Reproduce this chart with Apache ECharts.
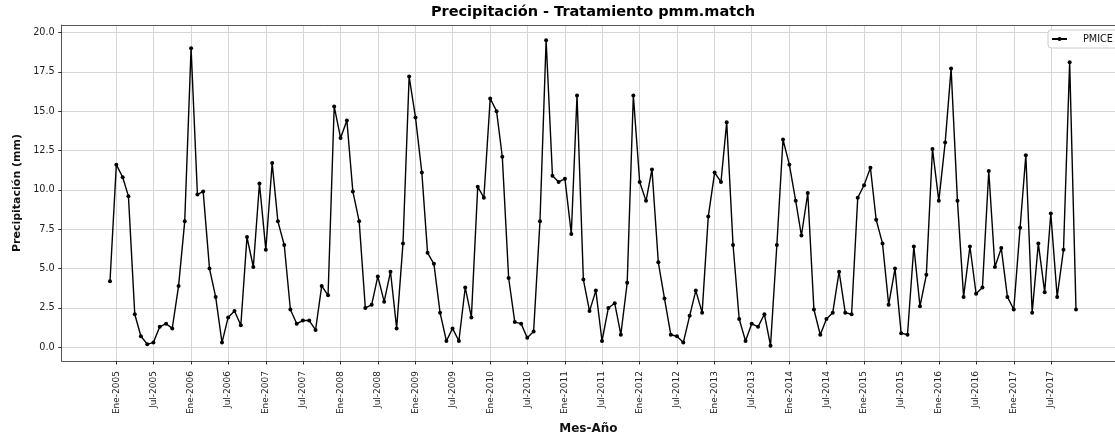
<!DOCTYPE html>
<html>
<head>
<meta charset="utf-8">
<script src="https://cdn.jsdelivr.net/npm/echarts@6/dist/echarts.min.js"></script>
<style>
  html, body { margin: 0; padding: 0; background: #ffffff; }
  #chart { width: 1115px; height: 440px; }
</style>
</head>
<body>
<div id="chart"></div>
<script>
// Monthly precipitation series (mm), first month = December 2004
const firstYear = 2004;
const firstMonth = 12;
const precip = [
  4.2, 11.6, 10.8, 9.6, 2.1, 0.7, 0.2, 0.3, 1.3, 1.5, 1.2, 3.9,
  8.0, 19.0, 9.7, 9.9, 5.0, 3.2, 0.3, 1.9, 2.3, 1.4, 7.0, 5.1,
  10.4, 6.2, 11.7, 8.0, 6.5, 2.4, 1.5, 1.7, 1.7, 1.1, 3.9, 3.3,
  15.3, 13.3, 14.4, 9.9, 8.0, 2.5, 2.7, 4.5, 2.9, 4.8, 1.2, 6.6,
  17.2, 14.6, 11.1, 6.0, 5.3, 2.2, 0.4, 1.2, 0.4, 3.8, 1.9, 10.2,
  9.5, 15.8, 15.0, 12.1, 4.4, 1.6, 1.5, 0.6, 1.0, 8.0, 19.5, 10.9,
  10.5, 10.7, 7.2, 16.0, 4.3, 2.3, 3.6, 0.4, 2.5, 2.8, 0.8, 4.1,
  16.0, 10.5, 9.3, 11.3, 5.4, 3.1, 0.8, 0.7, 0.3, 2.0, 3.6, 2.2,
  8.3, 11.1, 10.5, 14.3, 6.5, 1.8, 0.4, 1.5, 1.3, 2.1, 0.1, 6.5,
  13.2, 11.6, 9.3, 7.1, 9.8, 2.4, 0.8, 1.8, 2.2, 4.8, 2.2, 2.1,
  9.5, 10.3, 11.4, 8.1, 6.6, 2.7, 5.0, 0.9, 0.8, 6.4, 2.6, 4.6,
  12.6, 9.3, 13.0, 17.7, 9.3, 3.2, 6.4, 3.4, 3.8, 11.2, 5.1, 6.3,
  3.2, 2.4, 7.6, 12.2, 2.2, 6.6, 3.5, 8.5, 3.2, 6.2, 18.1, 2.4
];

// Date tick labels along the x axis
const tickLabels = [
  'Ene-2005', 'Jul-2005', 'Ene-2006', 'Jul-2006', 'Ene-2007', 'Jul-2007',
  'Ene-2008', 'Jul-2008', 'Ene-2009', 'Jul-2009', 'Ene-2010', 'Jul-2010',
  'Ene-2011', 'Jul-2011', 'Ene-2012', 'Jul-2012', 'Ene-2013', 'Jul-2013',
  'Ene-2014', 'Jul-2014', 'Ene-2015', 'Jul-2015', 'Ene-2016', 'Jul-2016',
  'Ene-2017', 'Jul-2017'
];
const yTicks = [0, 2.5, 5, 7.5, 10, 12.5, 15, 17.5, 20];

const monthIndex = { Ene: 0, Feb: 1, Mar: 2, Abr: 3, May: 4, Jun: 5, Jul: 6, Ago: 7, Sep: 8, Oct: 9, Nov: 10, Dic: 11 };
const tickValues = tickLabels.map(function (l) {
  const parts = l.split('-');
  return Date.UTC(+parts[1], monthIndex[parts[0]], 1);
});
const labelAt = {};
tickValues.forEach(function (v, i) { labelAt[v] = tickLabels[i]; });

const seriesData = precip.map(function (v, i) {
  return [Date.UTC(firstYear, firstMonth - 1 + i, 1), v];
});

// Plot area: 5% padding around the data span; the frame runs past the
// right edge of the canvas, so the visible part ends early.
const PLOT_LEFT = 61.7;
const PLOT_RIGHT_FULL = 1124.3;
const CANVAS_W = 1115;
const t0 = seriesData[0][0];
const t1 = seriesData[seriesData.length - 1][0];
const pad = (t1 - t0) * 0.05;
const xMin = t0 - pad;
const xMaxVisible = xMin + (t1 - t0 + 2 * pad) * (CANVAS_W - PLOT_LEFT) / (PLOT_RIGHT_FULL - PLOT_LEFT);
const vMin = Math.min.apply(null, precip);
const vMax = Math.max.apply(null, precip);
const vPad = (vMax - vMin) * 0.05;

const FONT = 'DejaVu Sans';
const SPINE = { show: true, onZero: false, lineStyle: { color: '#555', width: 1 } };
const chart = echarts.init(document.getElementById('chart'), null, { renderer: 'canvas' });

chart.setOption({
  backgroundColor: '#ffffff',
  animation: false,
  textStyle: { fontFamily: FONT },
  title: {
    text: 'Precipitación - Tratamiento pmm.match',
    left: 593,
    textAlign: 'center',
    top: 5,
    padding: 0,
    textStyle: { fontFamily: FONT, fontSize: 14.5, fontWeight: 'bold', color: '#000' }
  },
  legend: {
    data: ['PMICE'],
    left: 1048,
    top: 30,
    padding: [4, 6, 4, 3],
    itemWidth: 15,
    itemHeight: 5,
    backgroundColor: '#ffffff',
    borderColor: '#cccccc',
    borderWidth: 1,
    borderRadius: 3,
    textStyle: { fontFamily: FONT, fontSize: 9.7, color: '#111', padding: [0, 0, 0, 11] }
  },
  grid: {
    left: PLOT_LEFT,
    right: 0,
    top: 25,
    bottom: 76.7,
    show: false
  },
  xAxis: [{
    type: 'value',
    min: xMin,
    max: xMaxVisible,
    name: 'Mes-Año',
    nameLocation: 'middle',
    nameGap: 62,
    nameTextStyle: { fontFamily: FONT, fontSize: 12, fontWeight: 'bold', color: '#111' },
    axisLine: SPINE,
    axisTick: {
      show: true, inside: false, length: 3.5,
      customValues: tickValues,
      lineStyle: { color: '#333', width: 1 }
    },
    axisLabel: {
      customValues: tickValues,
      rotate: 90,
      margin: 10,
      fontFamily: FONT,
      fontSize: 9,
      color: '#222',
      hideOverlap: false,
      formatter: function (v) { return labelAt[v] || ''; }
    },
    splitLine: { show: true, lineStyle: { color: '#d6d6d6', width: 1 } }
  }, {
    // top frame line
    type: 'value',
    position: 'top',
    min: xMin,
    max: xMaxVisible,
    axisLine: SPINE,
    axisTick: { show: false },
    axisLabel: { show: false },
    splitLine: { show: false }
  }],
  yAxis: {
    type: 'value',
    min: vMin - vPad,
    max: vMax + vPad,
    name: 'Precipitación (mm)',
    nameLocation: 'middle',
    nameGap: 39,
    nameRotate: 90,
    nameTextStyle: { fontFamily: FONT, fontSize: 11, fontWeight: 'bold', color: '#111' },
    axisLine: SPINE,
    axisTick: {
      show: true, inside: false, length: 3.5,
      customValues: yTicks,
      lineStyle: { color: '#333', width: 1 }
    },
    axisLabel: {
      customValues: yTicks,
      margin: 7,
      fontFamily: FONT,
      fontSize: 9.7,
      color: '#222',
      formatter: function (v) { return v.toFixed(1); }
    },
    splitLine: { show: true, lineStyle: { color: '#d6d6d6', width: 1 } }
  },
  series: [{
    name: 'PMICE',
    type: 'line',
    xAxisIndex: 0,
    data: seriesData,
    symbol: 'circle',
    symbolSize: 4,
    showSymbol: true,
    lineStyle: { color: '#000', width: 1.4 },
    itemStyle: { color: '#000' },
    emphasis: { disabled: true }
  }]
});
</script>
</body>
</html>
